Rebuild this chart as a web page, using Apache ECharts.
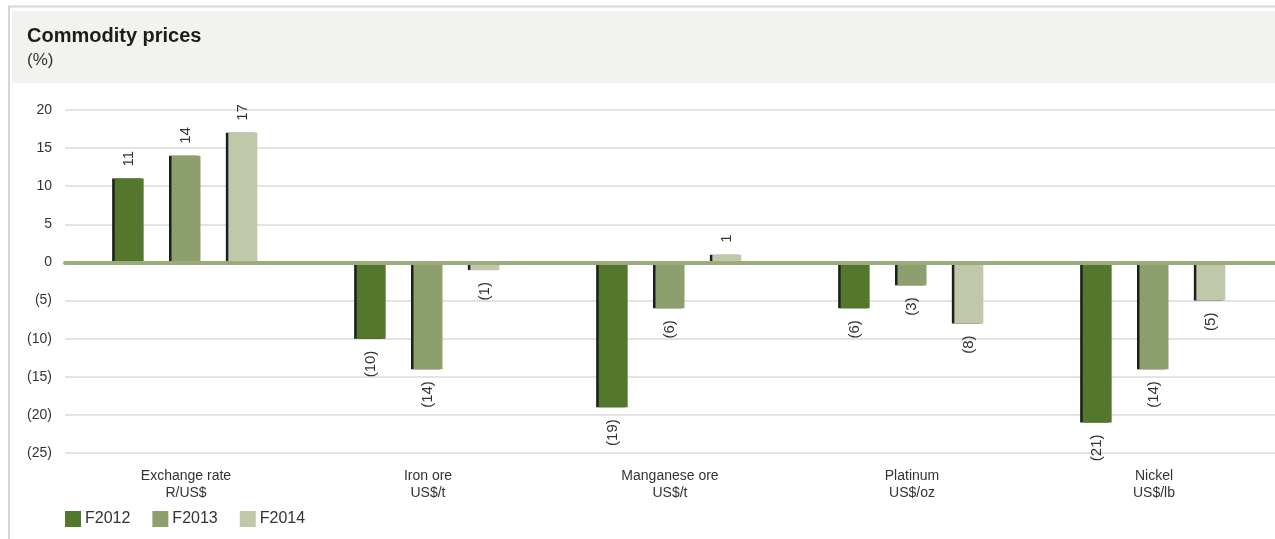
<!DOCTYPE html>
<html>
<head>
<meta charset="utf-8">
<title>Commodity prices</title>
<script src="https://cdn.jsdelivr.net/npm/echarts@6/dist/echarts.min.js"></script>
<style>
  html, body { margin: 0; padding: 0; background: #ffffff; }
  #chart { width: 1275px; height: 539px; }
</style>
</head>
<body>
<div id="chart"></div>
<script>
// Year-on-year change in commodity prices, per financial year (%)
const categories = [
  'Exchange rate\nR/US$',
  'Iron ore\nUS$/t',
  'Manganese ore\nUS$/t',
  'Platinum\nUS$/oz',
  'Nickel\nUS$/lb'
];
const seriesNames = ['F2012', 'F2013', 'F2014'];
const f2012 = [11, -10, -19, -6, -21];
const f2013 = [14, -14, -6, -3, -14];
const f2014 = [17, -1, 1, -8, -5];
const yTicks = { min: -25, max: 20, step: 5 };

const colors = ['#52772d', '#8c9f6c', '#bfc9aa'];
const FONT = '"Liberation Sans", Arial, Helvetica, sans-serif';

// Negative numbers are shown in accounting style: (10)
function fmt(v) {
  return v < 0 ? '(' + (-v) + ')' : String(v);
}

// Each bar's label sits outside the bar end, rotated to read upwards
function withLabels(values) {
  return values.map(v => ({
    value: v,
    label: v >= 0
      ? { position: 'top', align: 'left', verticalAlign: 'middle' }
      : { position: 'bottom', align: 'right', verticalAlign: 'middle' }
  }));
}

const seriesValues = [f2012, f2013, f2014];

const chart = echarts.init(document.getElementById('chart'), null, { renderer: 'canvas' });

chart.setOption({
  animation: false,
  backgroundColor: '#ffffff',
  textStyle: { fontFamily: FONT },
  graphic: [
    // frame lines
    { type: 'line', z: -10, shape: { x1: 8, y1: 6.5, x2: 1275, y2: 6.5 }, style: { stroke: '#d6d6d6', lineWidth: 2 } },
    { type: 'line', z: -10, shape: { x1: 9, y1: 6, x2: 9, y2: 539 }, style: { stroke: '#d6d6d6', lineWidth: 2 } },
    // header band
    { type: 'rect', z: -10, shape: { x: 12, y: 11, width: 1263, height: 72 }, style: { fill: '#f2f2ee' } }
  ],
  title: {
    text: 'Commodity prices',
    subtext: '(%)',
    left: 27,
    top: 26,
    padding: 0,
    itemGap: 6,
    textStyle: { fontFamily: FONT, fontSize: 20, fontWeight: 'bold', color: '#1c1c1c' },
    subtextStyle: { fontFamily: FONT, fontSize: 17, color: '#333333' }
  },
  legend: {
    left: 65,
    top: 511,
    padding: 0,
    itemWidth: 16,
    itemHeight: 16,
    itemGap: 22,
    icon: 'rect',
    itemStyle: { shadowBlur: 0, shadowColor: 'rgba(0,0,0,0)', shadowOffsetX: 0, shadowOffsetY: 0 },
    textStyle: { fontFamily: FONT, fontSize: 16, color: '#333333', padding: [0, 0, 0, -1] },
    data: seriesNames
  },
  grid: {
    left: 65,
    right: 0,
    top: 110,
    bottom: 86,
    containLabel: false
  },
  xAxis: [
    {
      // category names along the bottom edge
      type: 'category',
      data: categories,
      axisLine: { show: false, onZero: false },
      axisTick: { show: false },
      splitLine: { show: false },
      axisLabel: {
        fontFamily: FONT,
        fontSize: 14,
        color: '#333333',
        lineHeight: 17,
        margin: 15,
        interval: 0
      }
    },
    {
      // zero baseline drawn above the bars
      type: 'category',
      data: categories,
      position: 'bottom',
      z: 10,
      axisLine: { show: true, onZero: true, lineStyle: { color: '#9aab7c', width: 4 } },
      axisTick: { show: false },
      axisLabel: { show: false },
      splitLine: { show: false }
    }
  ],
  yAxis: {
    type: 'value',
    min: yTicks.min,
    max: yTicks.max,
    interval: yTicks.step,
    axisLine: { show: false },
    axisTick: { show: false },
    splitLine: { show: true, lineStyle: { color: '#e3e3e3', width: 2 } },
    axisLabel: {
      fontFamily: FONT,
      fontSize: 14,
      color: '#333333',
      margin: 13,
      formatter: fmt
    }
  },
  series: seriesNames.map((name, i) => ({
    name: name,
    type: 'bar',
    xAxisIndex: 0,
    barWidth: 29,
    barGap: '96%',
    data: withLabels(seriesValues[i]),
    itemStyle: {
      color: colors[i],
      shadowColor: '#1e1e1e',
      shadowBlur: 0,
      shadowOffsetX: -2.5,
      shadowOffsetY: 0
    },
    emphasis: { disabled: true },
    label: {
      show: true,
      rotate: 90,
      distance: 12,
      fontFamily: FONT,
      fontSize: 15,
      color: '#333333',
      formatter: p => fmt(p.value)
    }
  }))
});
</script>
</body>
</html>
